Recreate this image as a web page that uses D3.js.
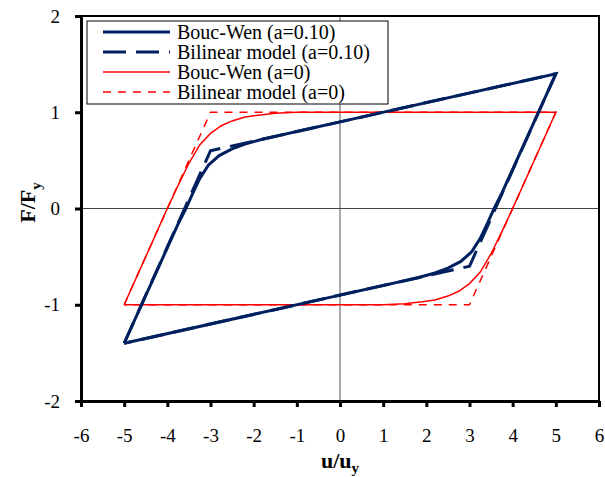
<!DOCTYPE html>
<html>
<head>
<meta charset="utf-8">
<script src="https://cdn.jsdelivr.net/npm/d3@7"></script>
<style>
  body { margin: 0; background: #fff; }
  svg text { font-family: "Liberation Serif", "Times New Roman", serif; }
</style>
</head>
<body>
<div id="root"></div>
<script>
// Tick values
const xTicks = [-6, -5, -4, -3, -2, -1, 0, 1, 2, 3, 4, 5, 6];
const yTicks = [-2, -1, 0, 1, 2];

// Series [u/uy, F/Fy]
const bouc010 = [
  [-5, -1.4], [-3.75, -0.16], [-3.57, 0], [-3.42, 0.15], [-3.25, 0.31], [-3.05, 0.45],
  [-2.8, 0.55], [-2.5, 0.62], [-2.2, 0.67], [-1.8, 0.72], [-1.4, 0.76], [-1, 0.8],
  [0, 0.9], [5, 1.4],
  [3.75, 0.16], [3.57, 0], [3.42, -0.15], [3.25, -0.31], [3.05, -0.45],
  [2.8, -0.55], [2.5, -0.62], [2.2, -0.67], [1.8, -0.72], [1.4, -0.76], [1, -0.8],
  [0, -0.9], [-5, -1.4]
];
const bilin010 = [[-5, -1.4], [-3, 0.6], [5, 1.4], [3, -0.6], [-5, -1.4]];
const bouc0 = [
  [-5, -1], [-4, 0], [-3.75, 0.24], [-3.5, 0.47], [-3.25, 0.66], [-3, 0.78],
  [-2.75, 0.86], [-2.5, 0.91], [-2.2, 0.95], [-1.9, 0.97], [-1.5, 0.99], [-1, 1],
  [5, 1],
  [4, 0], [3.75, -0.24], [3.5, -0.47], [3.25, -0.66], [3, -0.78],
  [2.75, -0.86], [2.5, -0.91], [2.2, -0.95], [1.9, -0.97], [1.5, -0.99], [1, -1],
  [-5, -1]
];
const bilin0 = [[-5, -1], [-3, 1], [5, 1], [3, -1], [-5, -1]];

const navy = "#002060";
const red = "#ff0000";
const serif = "'Liberation Serif', 'Times New Roman', serif";

const series = [
  { name: "Bouc-Wen (a=0)", values: bouc0, color: red, width: 1.5, dash: null },
  { name: "Bilinear model (a=0)", values: bilin0, color: red, width: 1.5, dash: "8,7" },
  { name: "Bouc-Wen (a=0.10)", values: bouc010, color: navy, width: 3, dash: null },
  { name: "Bilinear model (a=0.10)", values: bilin010, color: navy, width: 3, dash: "23,10" }
];
const legendOrder = [2, 3, 0, 1];

const W = 605, H = 477;
const m = { left: 81, right: 6, top: 16, bottom: 76 };
const w = W - m.left - m.right;
const h = H - m.top - m.bottom;

const svg = d3.select("#root").append("svg")
  .attr("width", W)
  .attr("height", H)
  .attr("font-family", serif);

const g = svg.append("g")
  .attr("transform", `translate(${m.left},${m.top})`);

const x = d3.scaleLinear().domain([-6, 6]).range([0, w]);
const y = d3.scaleLinear().domain([-2, 2]).range([h, 0]);

// zero lines
g.append("line")
  .attr("x1", x(0)).attr("x2", x(0)).attr("y1", 0).attr("y2", h)
  .attr("stroke", "#555").attr("stroke-width", 1);
g.append("line")
  .attr("x1", 0).attr("x2", w).attr("y1", y(0)).attr("y2", y(0))
  .attr("stroke", "#444").attr("stroke-width", 1);

// curves
const lineGen = d3.line()
  .x(d => x(d[0]))
  .y(d => y(d[1]));

g.selectAll("path.series")
  .data(series)
  .enter()
  .append("path")
    .attr("class", "series")
    .attr("d", d => lineGen(d.values))
    .attr("fill", "none")
    .attr("stroke", d => d.color)
    .attr("stroke-width", d => d.width)
    .attr("stroke-dasharray", d => d.dash)
    .attr("stroke-linejoin", "miter");

// frame
g.append("rect")
  .attr("width", w).attr("height", h)
  .attr("fill", "none").attr("stroke", "#000").attr("stroke-width", 2);

// axes
const fmt = d => String(d);
const yAxis = g.append("g")
  .call(d3.axisLeft(y).tickValues(yTicks).tickFormat(fmt)
    .tickSizeInner(6).tickSizeOuter(0).tickPadding(15));
const xAxis = g.append("g")
  .attr("transform", `translate(0,${h})`)
  .call(d3.axisBottom(x).tickValues(xTicks).tickFormat(fmt)
    .tickSizeInner(6).tickSizeOuter(0).tickPadding(22));

[xAxis, yAxis].forEach(a => {
  a.attr("font-family", serif).attr("font-size", 19);
  a.select(".domain").attr("stroke", "#000").attr("stroke-width", 3);
  a.selectAll(".tick line").attr("stroke", "#000").attr("stroke-width", 3);
  a.selectAll(".tick text").attr("fill", "#000");
});

// axis titles
const xt = svg.append("text")
  .attr("x", m.left + x(0))
  .attr("y", 468)
  .attr("text-anchor", "middle")
  .attr("font-weight", "bold")
  .attr("font-size", 22);
xt.append("tspan").text("u/u");
xt.append("tspan").attr("dy", 5).attr("font-size", 15).text("y");

const yt = svg.append("text")
  .attr("transform", `translate(35,${m.top + y(0) - 6}) rotate(-90)`)
  .attr("text-anchor", "middle")
  .attr("font-weight", "bold")
  .attr("font-size", 22);
yt.append("tspan").text("F/F");
yt.append("tspan").attr("dy", 6).attr("font-size", 15).text("y");

// legend
const lg = svg.append("g").attr("transform", "translate(87,21)");
lg.append("rect")
  .attr("width", 301).attr("height", 83)
  .attr("fill", "#fff").attr("stroke", "#000").attr("stroke-width", 1);

const items = lg.selectAll("g.item")
  .data(legendOrder.map(i => series[i]))
  .enter()
  .append("g")
    .attr("class", "item")
    .attr("transform", (d, i) => `translate(0,${11 + i * 20})`);
items.append("line")
  .attr("x1", 16).attr("x2", 83)
  .attr("stroke", d => d.color)
  .attr("stroke-width", d => d.width)
  .attr("stroke-dasharray", d => d.dash);
items.append("text")
  .attr("x", 90)
  .attr("dy", "0.33em")
  .attr("font-size", 20)
  .attr("fill", "#000")
  .text(d => d.name);
</script>
</body>
</html>
